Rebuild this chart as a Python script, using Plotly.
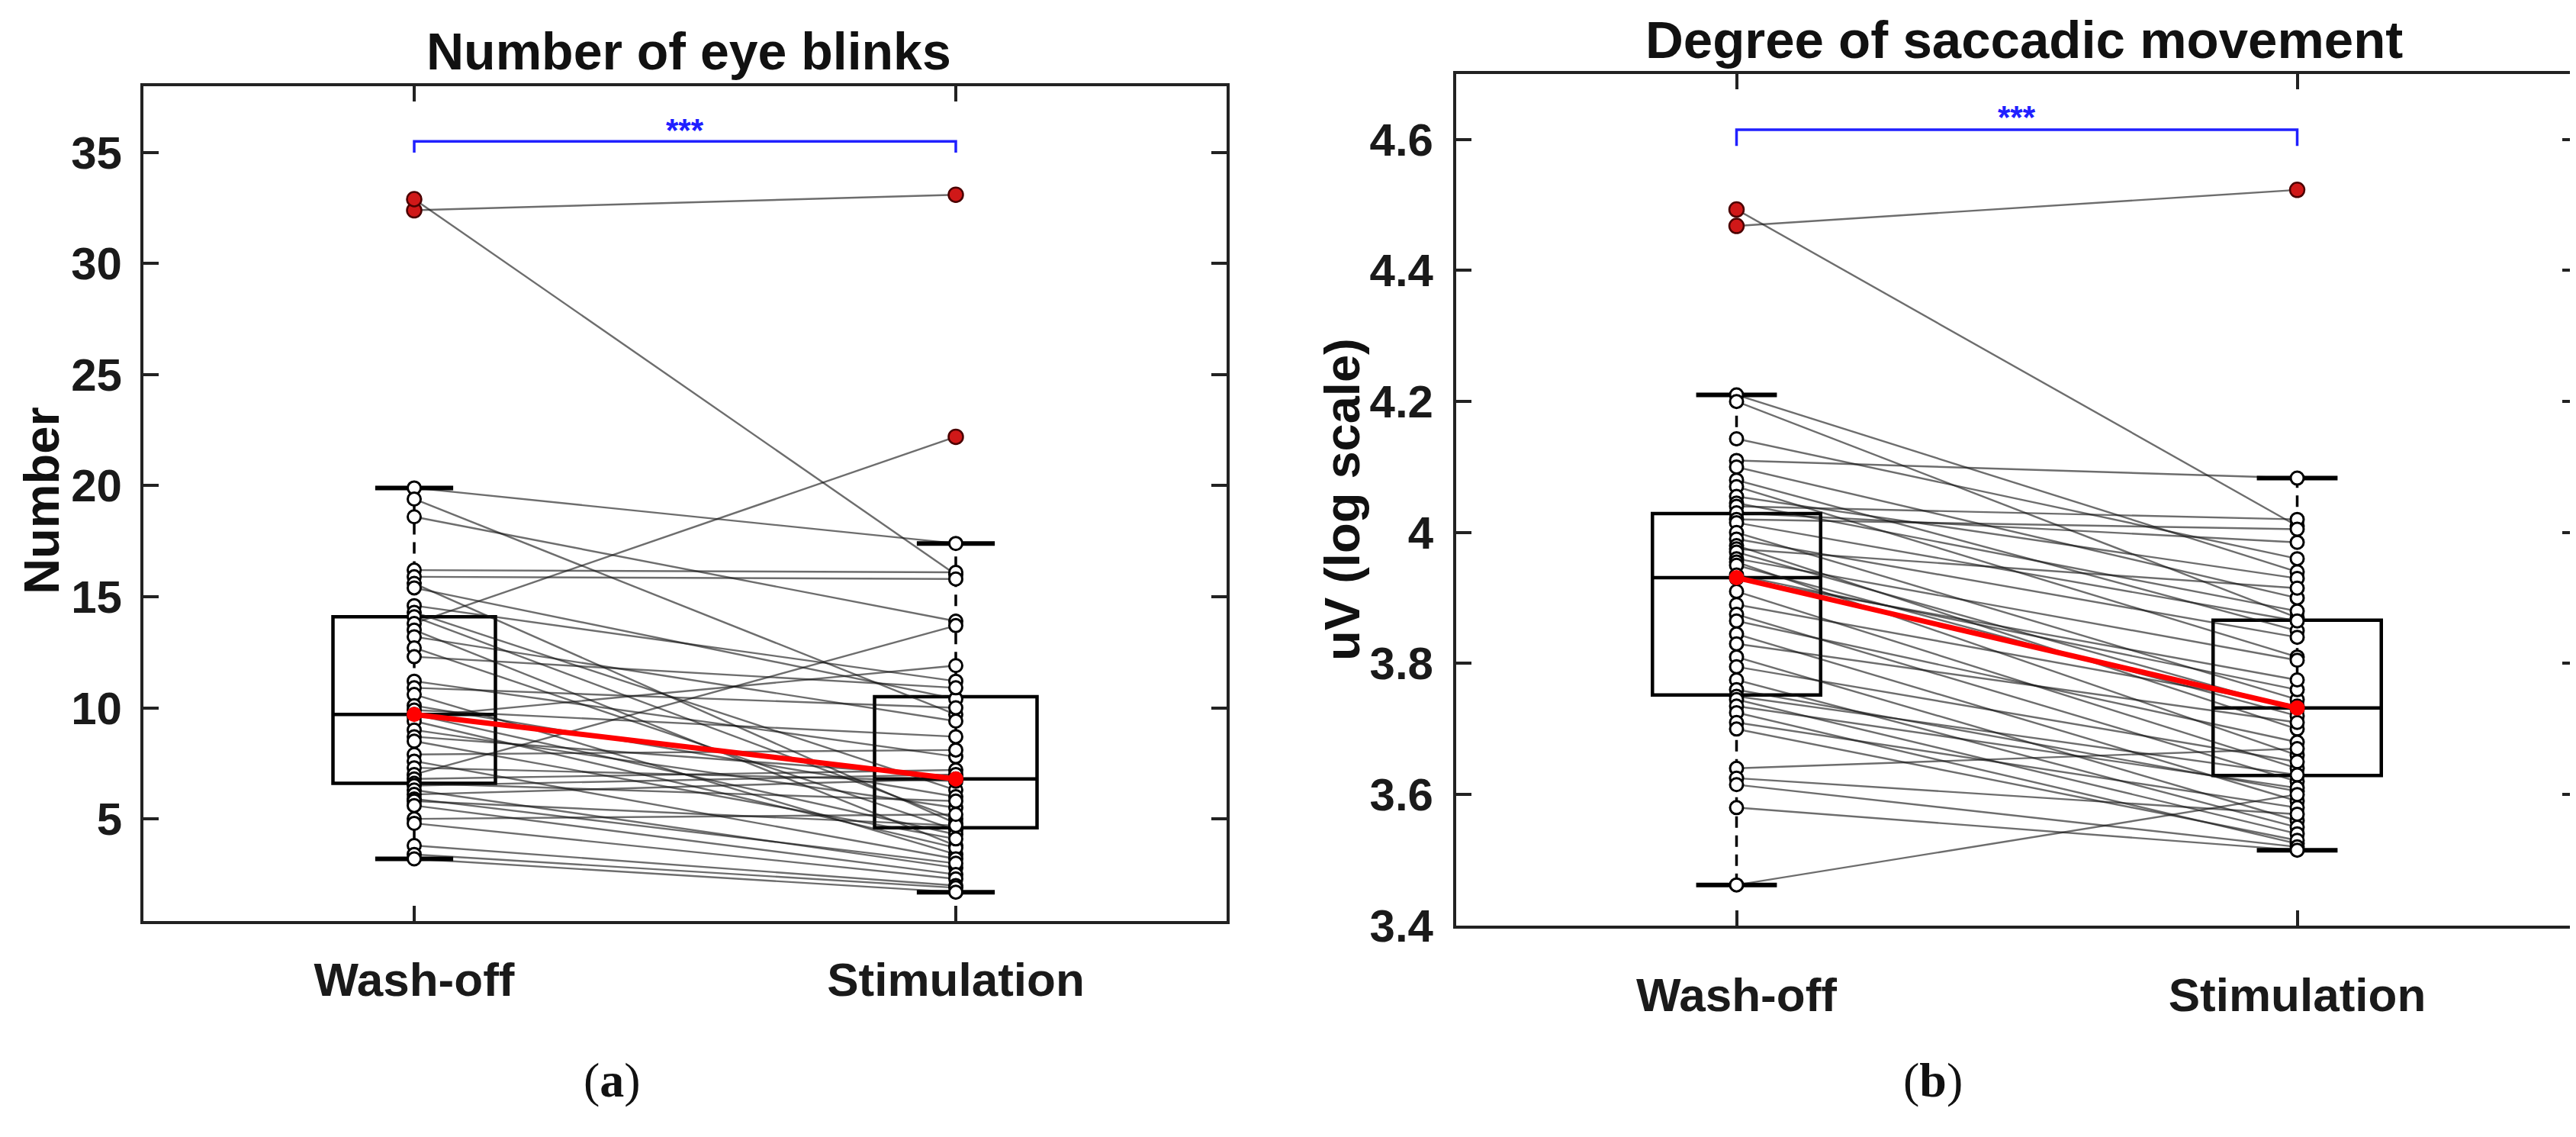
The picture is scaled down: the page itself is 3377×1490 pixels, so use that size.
import plotly.graph_objects as go

W, H = 3377, 1490

categories = ["Wash-off", "Stimulation"]
cat_x = [1, 2]

# ---------------- Panel (a): number of eye blinks ----------------
blink_wash = [32.4, 32.9, 19.9, 19.4, 18.6, 16.2, 15.9, 15.6, 15.4, 14.6,
              14.3, 14.1, 13.8, 13.5, 13.2, 12.7, 12.3, 11.2, 10.9, 10.6,
              10.1, 9.9, 9.7, 9.6, 9.4, 9.0, 8.7, 8.5, 7.9, 7.6,
              7.3, 7.0, 6.8, 6.6, 6.5, 6.3, 6.1, 5.9, 5.8, 5.6,
              5.0, 4.8, 3.8, 3.4, 3.2]
blink_stim = [33.1, 16.0, 17.4, 9.7, 13.9, 16.1, 15.8, 4.8, 10.4, 11.2,
              6.3, 5.0, 22.2, 3.8, 9.4, 4.5, 10.9, 7.8, 10.0, 3.4,
              6.0, 8.7, 4.3, 11.9, 3.7, 5.5, 6.9, 4.1, 8.1, 3.2,
              6.7, 13.7, 7.2, 5.8, 7.0, 2.8, 6.8, 3.0, 4.7, 2.5,
              5.2, 2.3, 2.0, 1.9, 1.7]
blink_q1 = [6.6, 4.6]
blink_median = [9.7, 6.8]
blink_q3 = [14.1, 10.5]
blink_whisk_lo = [3.2, 1.7]
blink_whisk_hi = [19.9, 17.4]
blink_range = [0.4, 38.0]
blink_yticks = [5, 10, 15, 20, 25, 30, 35]
blink_bracket = [35.0, 35.5]
blink_star_y = 36.0

# ---------------- Panel (b): degree of saccadic movement ----------------
sacc_wash = [4.468, 4.493, 4.21, 4.20, 4.143, 4.11, 4.10, 4.08, 4.07, 4.055,
             4.045, 4.04, 4.03, 4.02, 4.015, 4.0, 3.99, 3.98, 3.975, 3.97,
             3.96, 3.955, 3.95, 3.935, 3.93, 3.91, 3.89, 3.875, 3.865, 3.845,
             3.83, 3.81, 3.795, 3.775, 3.76, 3.75, 3.745, 3.735, 3.725, 3.71,
             3.70, 3.64, 3.625, 3.615, 3.58, 3.462]
sacc_stim = [4.523, 4.01, 3.94, 3.87, 3.96, 4.083, 3.90, 3.85, 3.81, 3.93,
             3.88, 4.02, 3.985, 4.005, 3.865, 3.745, 3.84, 3.70, 3.915, 3.73,
             3.805, 3.66, 3.72, 3.76, 3.775, 3.64, 3.735, 3.62, 3.68, 3.59,
             3.71, 3.56, 3.65, 3.55, 3.605, 3.63, 3.54, 3.61, 3.525, 3.58,
             3.53, 3.67, 3.57, 3.52, 3.515, 3.60]
sacc_q1 = [3.752, 3.629]
sacc_median = [3.931, 3.732]
sacc_q3 = [4.029, 3.866]
sacc_whisk_lo = [3.462, 3.515]
sacc_whisk_hi = [4.21, 4.083]
sacc_range = [3.4, 4.7]
sacc_yticks = [3.4, 3.6, 3.8, 4.0, 4.2, 4.4, 4.6]
sacc_bracket = [4.59, 4.615]
sacc_star_y = 4.634

FONT = "Liberation Sans, Arial, sans-serif"
AXCOL = "#222222"

fig = go.Figure()


def add_panel(wash, stim, q1, med, q3, lo, hi, bracket, star_y, xa, ya):
    # paired subject lines
    lx, ly = [], []
    for w, s in zip(wash, stim):
        lx += [cat_x[0], cat_x[1], None]
        ly += [w, s, None]
    fig.add_trace(go.Scatter(x=lx, y=ly, mode="lines", xaxis=xa, yaxis=ya,
                             line=dict(color="rgba(20,20,20,0.62)", width=2.4),
                             hoverinfo="skip", showlegend=False))
    # dashed whiskers and caps
    cap = 0.072
    for i, cx in enumerate(cat_x):
        fig.add_trace(go.Scatter(x=[cx, cx], y=[lo[i], hi[i]], mode="lines",
                                 xaxis=xa, yaxis=ya, showlegend=False,
                                 line=dict(color="black", width=3.5, dash="15px,10px")))
        fig.add_trace(go.Scatter(x=[cx - cap, cx + cap, None, cx - cap, cx + cap],
                                 y=[lo[i], lo[i], None, hi[i], hi[i]], mode="lines",
                                 xaxis=xa, yaxis=ya, showlegend=False,
                                 line=dict(color="black", width=6)))
    # boxes (precomputed statistics)
    fig.add_trace(go.Box(x=cat_x, q1=q1, median=med, q3=q3,
                         lowerfence=q1, upperfence=q3, width=0.3,
                         whiskerwidth=0, boxpoints=False,
                         fillcolor="rgba(0,0,0,0)",
                         line=dict(color="black", width=4.5),
                         xaxis=xa, yaxis=ya, showlegend=False))
    # individual points
    for i, vals in enumerate([wash, stim]):
        inside = [v for v in vals if lo[i] <= v <= hi[i]]
        outside = [v for v in vals if v < lo[i] or v > hi[i]]
        fig.add_trace(go.Scatter(x=[cat_x[i]] * len(inside), y=inside, mode="markers",
                                 xaxis=xa, yaxis=ya, showlegend=False,
                                 marker=dict(symbol="circle", size=17, color="white",
                                             line=dict(color="black", width=3))))
        fig.add_trace(go.Scatter(x=[cat_x[i]] * len(outside), y=outside, mode="markers",
                                 xaxis=xa, yaxis=ya, showlegend=False,
                                 marker=dict(symbol="circle", size=19, color="#d01818",
                                             line=dict(color="#4a0000", width=2.5))))
    # median trend line
    fig.add_trace(go.Scatter(x=cat_x, y=med, mode="lines+markers",
                             xaxis=xa, yaxis=ya, showlegend=False,
                             line=dict(color="#ff0000", width=7),
                             marker=dict(color="#ff0000", size=20)))
    # significance bracket
    fig.add_trace(go.Scatter(x=[cat_x[0], cat_x[0], cat_x[1], cat_x[1]],
                             y=[bracket[0], bracket[1], bracket[1], bracket[0]],
                             mode="lines", xaxis=xa, yaxis=ya, showlegend=False,
                             line=dict(color="#2020ff", width=3.5)))
    fig.add_annotation(x=(cat_x[0] + cat_x[1]) / 2, y=star_y, xref=xa, yref=ya,
                       text="<b>***</b>", showarrow=False, yanchor="middle",
                       font=dict(family=FONT, size=42, color="#2020ff"))


add_panel(blink_wash, blink_stim, blink_q1, blink_median, blink_q3,
          blink_whisk_lo, blink_whisk_hi, blink_bracket, blink_star_y, "x", "y")
add_panel(sacc_wash, sacc_stim, sacc_q1, sacc_median, sacc_q3,
          sacc_whisk_lo, sacc_whisk_hi, sacc_bracket, sacc_star_y, "x2", "y2")

axis_common = dict(showline=True, linewidth=4, linecolor=AXCOL, mirror="ticks",
                   ticks="inside", ticklen=20, tickwidth=3.5, tickcolor=AXCOL,
                   showgrid=False, zeroline=False)
tick_y = dict(family=FONT, size=60, color="#1a1a1a", weight="bold")
tick_x = dict(family=FONT, size=62, color="#1a1a1a", weight="bold")

fig.update_layout(
    width=W, height=H, margin=dict(l=0, r=0, t=0, b=0),
    paper_bgcolor="white", plot_bgcolor="white", showlegend=False,
    xaxis=dict(domain=[180 / W, 1600 / W], range=[0.5, 2.5], tickvals=cat_x,
               ticktext=categories, ticklabelstandoff=20, anchor="y",
               tickfont=tick_x, **axis_common),
    yaxis=dict(domain=[1 - 1227 / H, 1 - 107 / H], range=blink_range,
               tickvals=blink_yticks, ticklabelstandoff=12, anchor="x",
               tickfont=tick_y, **axis_common),
    xaxis2=dict(domain=[1901 / W, 3371 / W], range=[0.5, 2.5], tickvals=cat_x,
                ticktext=categories, ticklabelstandoff=34, anchor="y2",
                tickfont=tick_x, **axis_common),
    yaxis2=dict(domain=[1 - 1233 / H, 1 - 91 / H], range=sacc_range,
                tickvals=sacc_yticks, ticklabelstandoff=14, anchor="x2",
                tickfont=tick_y, **axis_common),
)

texts = [
    ("<b>Number of eye blinks</b>", 895 / W, 1 - 60 / H, 0, 68, FONT),
    ("<b>Degree of saccadic movement</b>", 2645 / W, 1 - 46 / H, 0, 69, FONT),
    ("<b>Number</b>", 47 / W, 1 - 663 / H, -90, 65, FONT),
    ("<b>uV (log scale)</b>", 1752 / W, 1 - 662 / H, -90, 65, FONT),
    ("(<b>a</b>)", 794 / W, 1 - 1440 / H, 0, 64, "Liberation Serif, Times New Roman, serif"),
    ("(<b>b</b>)", 2526 / W, 1 - 1440 / H, 0, 64, "Liberation Serif, Times New Roman, serif"),
]
for t, x, y, ang, sz, fam in texts:
    fig.add_annotation(text=t, x=x, y=y, xref="paper", yref="paper", showarrow=False,
                       xanchor="center", yanchor="middle", textangle=ang,
                       font=dict(family=fam, size=sz, color="#111111"))

fig.write_html("out.html")
